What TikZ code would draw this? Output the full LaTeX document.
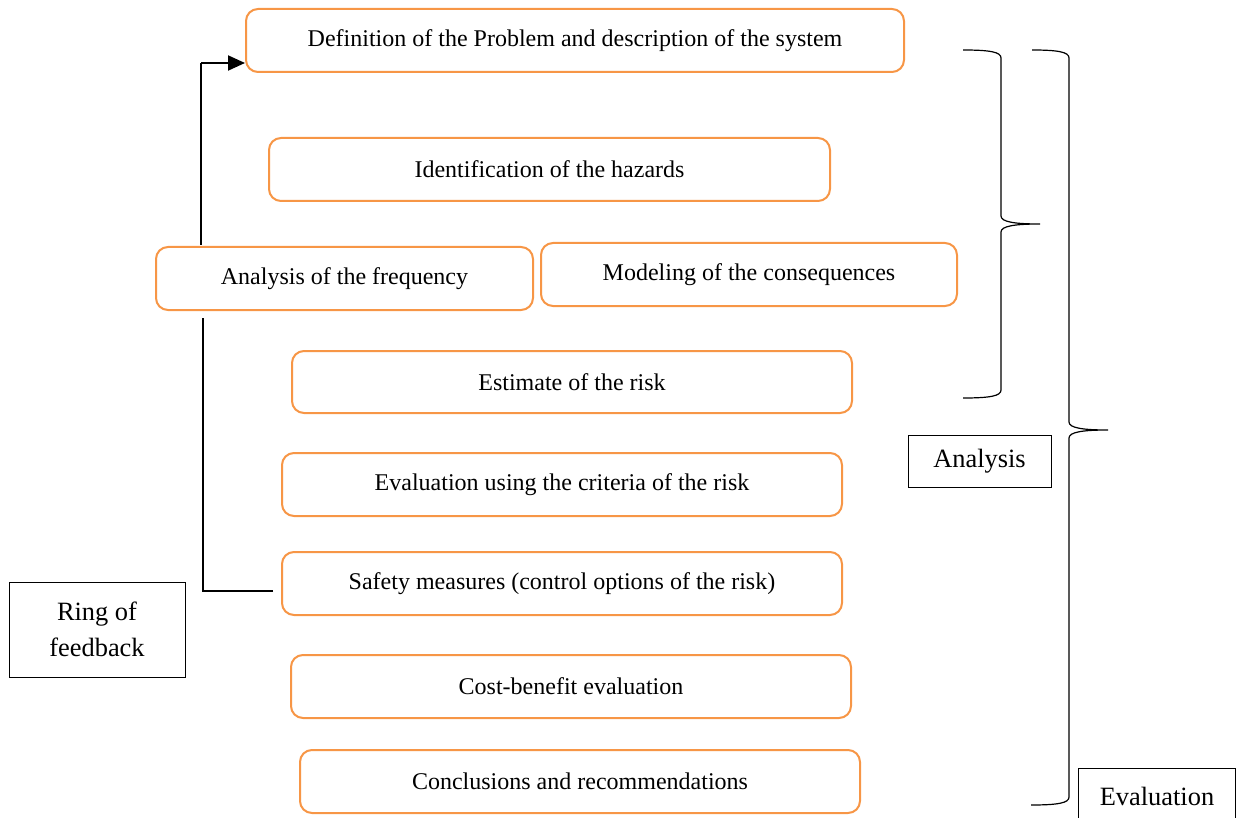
\documentclass[tikz,border=0pt]{standalone}
\usepackage{fontspec}
\setmainfont{Liberation Serif}
\usetikzlibrary{arrows.meta}
\definecolor{boxorange}{HTML}{F79646}
\begin{document}
\begin{tikzpicture}[x=0.5pt,y=-0.5pt,
  stage/.style={draw=boxorange, line width=1pt, rounded corners=6pt, fill=white,
    minimum height=31.5pt, inner sep=0pt, font=\fontsize{12}{14}\selectfont},
  tag/.style={draw=black, line width=0.5pt, inner sep=0pt,
    font=\fontsize{13.2}{18}\selectfont, align=center},
  brace/.style={draw=black, line width=0.6pt},
  link/.style={draw=black, line width=0.6pt}]
\useasboundingbox (0,0) rectangle (1236,818);

% feedback loop (drawn first, runs behind the frequency box)
\coordinate (fbA) at (273,591);
\coordinate (fbB) at (203,591);
\coordinate (fbC) at (203,318);
\coordinate (fbD) at (201,245);
\coordinate (fbE) at (201,63);

% process steps
\node[stage, minimum width=329pt] (def)   at (575,40.5)  {Definition of the Problem and description of the system};
\node[stage, minimum width=280.5pt] (ident) at (549.5,169.5) {Identification of the hazards};
\node[stage, minimum width=188.5pt] (freq)  at (344.5,278.5) {Analysis of the frequency};
\node[stage, minimum width=208pt] (model) at (749,274.5) {Modeling of the consequences};
\node[stage, minimum width=280pt, minimum height=31pt] (est) at (572,382) {Estimate of the risk};
\node[stage, minimum width=280pt] (evalc) at (562,484.5) {Evaluation using the criteria of the risk};
\node[stage, minimum width=280pt] (safety) at (562,583.5) {Safety measures (control options of the risk)};
\node[stage, minimum width=280pt] (cost)  at (571,686.5) {Cost-benefit evaluation};
\node[stage, minimum width=280pt] (concl) at (580,781.5) {Conclusions and recommendations};

% loop connectors
\draw[link] (fbA) -- (fbB) -- (fbC);
\draw[link] (fbD) -- (fbE);
\draw[black, line width=1pt, -{Triangle[length=8.5pt,width=7.5pt]}]
  (fbE) -- (def.west |- fbE);

% labels
\node[tag, minimum width=71.5pt, minimum height=26pt] (analysis) at (979.5,461) {Analysis};
\node[tag, minimum width=88pt, minimum height=47.5pt] (ring) at (97,629.5) {Ring of\\feedback};
\node[tag, minimum width=78.5pt, minimum height=28pt, anchor=north west] (evaluation) at (1078,768) {Evaluation};

% braces
\draw[brace] (963,50) .. controls (990,50) and (1001,52) .. (1001,58)
  -- (1001,216) .. controls (1001,222) and (1015,224) .. (1040,224)
  .. controls (1015,224) and (1001,226) .. (1001,232)
  -- (1001,390) .. controls (1001,396) and (990,398) .. (963,398);
\draw[brace] (1032,50) .. controls (1058,50) and (1069,52) .. (1069,58)
  -- (1069,422) .. controls (1069,428) and (1083,430) .. (1108,430)
  .. controls (1083,430) and (1069,432) .. (1069,438)
  -- (1069,797) .. controls (1069,803) and (1058,805) .. (1031,805);
\end{tikzpicture}
\end{document}
